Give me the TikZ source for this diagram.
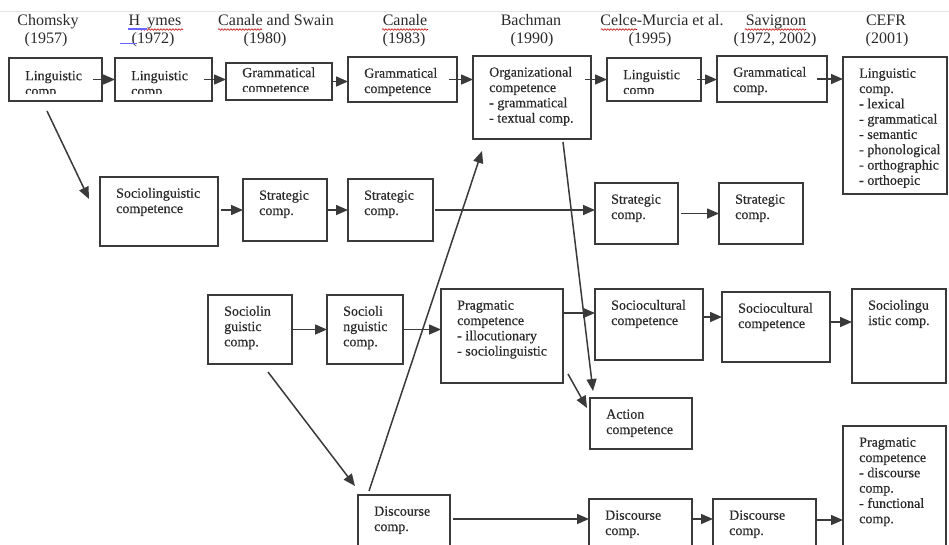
\documentclass[tikz,border=0pt]{standalone}
\usepackage{fontspec}
\setmainfont{Liberation Serif}
\newfontfamily\boxfont{Liberation Serif}[FakeBold=0.35]
\usetikzlibrary{arrows.meta,decorations.pathmorphing}
\definecolor{ink}{HTML}{2A2A2A}
\definecolor{edgec}{HTML}{3A3A3A}
\tikzset{
 bx/.style={draw=edgec, line width=1.5pt, inner sep=0pt, outer sep=0pt, rectangle},
 tx/.style={anchor=north west, inner sep=0pt, align=left, text=ink, font=\boxfont\fontsize{14}{15.3}\selectfont},
 hd/.style={anchor=base, inner sep=0pt, text=ink, font=\fontsize{16}{18}\selectfont},
 arr/.style={draw=edgec, line width=1.5pt, -{Triangle[length=12pt,width=10pt]}},
 squig/.style={draw=red!75!black, line width=0.6pt, decorate, decoration={snake, amplitude=0.8pt, segment length=3pt}},
 gram/.style={draw=blue!60, line width=1.5pt},
}
% name, x1, y1, x2, y2, text
\newcommand\dbox[6]{%
  \node[bx, minimum width={#4-#2}, minimum height={#5-#3}] (#1) at ({(#2+#4)/2},{(#3+#5)/2}) {};
  \node[tx] (#1t) at ({#2+16},{#3+10.5}) {\rule{0pt}{10pt}#6};
}
% name, x1, y1, x2, y2, text, text top, clip y
\newcommand\dboxc[8]{%
  \node[bx, minimum width={#4-#2}, minimum height={#5-#3}] (#1) at ({(#2+#4)/2},{(#3+#5)/2}) {};
  \begin{scope}
    \clip (#2,#3) rectangle (#4,#8);
    \node[tx] (#1t) at ({#2+16},{#7}) {\rule{0pt}{10pt}#6};
  \end{scope}
}
\begin{document}
\begin{tikzpicture}[x=1pt,y=-1pt]
\clip (0,0) rectangle (949,544);
\fill[white] (0,0) rectangle (949,544);
\draw[black!10, line width=0.6pt] (0,11) -- (949,11);

% headers
\node[hd] (h1a) at (48,25.5) {Chomsky};
\node[hd] (h1b) at (46,43) {(1957)};
\node[hd] (h2a) at (155,25.5) {H\hspace{0.45em}ymes};
\node[hd] (h2b) at (153,43) {(1972)};
\node[hd] (h3a) at (276,25.5) {Canale and Swain};
\node[hd] (h3b) at (265,43) {(1980)};
\node[hd] (h4a) at (405,25.5) {Canale};
\node[hd] (h4b) at (404,43) {(1983)};
\node[hd] (h5a) at (531,25.5) {Bachman};
\node[hd] (h5b) at (532,43) {(1990)};
\node[hd] (h6a) at (662,25.5) {Celce-Murcia et al.};
\node[hd] (h6b) at (650,43) {(1995)};
\node[hd] (h7a) at (776,25.5) {Savignon};
\node[hd] (h7b) at (775,43) {(1972, 2002)};
\node[hd] (h8a) at (886,25.5) {CEFR};
\node[hd] (h8b) at (887,43) {(2001)};

% spell-check marks
\draw[squig] (139,29.5) -- (183,29.5);
\draw[squig] (218,29.5) -- (262,29.5);
\draw[squig] (382,29.5) -- (428,29.5);
\draw[squig] (601,29.5) -- (637,29.5);
\draw[squig] (745,29.5) -- (806,29.5);
\draw[gram] (128,29) -- (147,29);
\draw[gram] (120,43.5) -- (137,43.5);

% top row
\dboxc{b1}{9}{58}{102}{101}{Linguistic\\comp}{70}{93.5}
\dboxc{b2}{115}{58}{212}{101}{Linguistic\\comp}{70}{93.5}
\dboxc{b3}{226}{63}{332}{100}{Grammatical\\competence}{67}{91}
\dbox{b4}{348}{57}{457}{102}{Grammatical\\competence}
\dbox{b5}{473}{56}{591}{139}{Organizational\\competence\\- grammatical\\- textual comp.}
\dboxc{b6}{607}{58}{701}{101}{Linguistic\\comp}{69}{93}
\dbox{b7}{717}{56}{827}{102}{Grammatical\\comp.}
\dbox{b8}{843}{57}{947}{194}{Linguistic\\comp.\\- lexical\\- grammatical\\- semantic\\- phonological\\- orthographic\\- orthoepic}

% second row
\dbox{s1}{100}{177}{218}{246}{Sociolinguistic\\competence}
\dbox{s2}{243}{179}{327}{241}{Strategic\\comp.}
\dbox{s3}{348}{179}{433}{241}{Strategic\\comp.}
\dbox{s5}{595}{183}{678}{244}{Strategic\\comp.}
\dbox{s6}{719}{183}{803}{244}{Strategic\\comp.}

% third row
\dbox{p1}{208}{295}{292}{364}{Sociolin\\guistic\\comp.}
\dbox{p2}{327}{295}{403}{364}{Socioli\\nguistic\\comp.}
\dbox{p3}{441}{289}{563}{383}{Pragmatic\\competence\\- illocutionary\\- sociolinguistic}
\dbox{p4}{595}{289}{703}{360}{Sociocultural\\competence}
\dbox{p5}{722}{292}{830}{362}{Sociocultural\\competence}
\dbox{p6}{852}{289}{946}{383}{Sociolingu\\istic comp.}
\dbox{ac}{590}{398}{692}{449}{Action\\competence}

% bottom row
\dbox{d1}{358}{495}{450}{560}{Discourse\\comp.}
\dbox{d2}{589}{499}{692}{560}{Discourse\\comp.}
\dbox{d3}{713}{499}{816}{560}{Discourse\\comp.}
\dbox{d4}{843}{426}{946}{560}{Pragmatic\\competence\\- discourse\\comp.\\- functional\\comp.}

% connectors
\draw[arr] ([xshift=-9pt]b1.east) -- (b2.west);
\draw[arr] ([xshift=-8pt]b2.east) -- (b2.east -| b3.west);
\draw[arr] (b3.east) -- (b3.east -| b4.west);
\draw[arr] ([xshift=-8pt]b4.east) -- (b4.east -| b5.west);
\draw[arr] ([xshift=-6pt]b5.east |- b6.west) -- (b6.west);
\draw[arr] ([xshift=-4pt]b6.east) -- (b6.east -| b7.west);
\draw[arr] ([xshift=-10pt]b7.east) -- (b7.east -| b8.west);
\draw[arr] ([xshift=-8.5pt,yshift=-10pt]b1.south) -- ([xshift=-11pt,yshift=-22pt]s1.north west);

\draw[arr] ([xshift=3pt]s1.east |- s2.west) -- (s2.west);
\draw[arr] (s2.east) -- (s3.west);
\draw[arr] ([xshift=2pt]s3.east) -- (s3.east -| s5.west);
\draw[arr] ([xshift=3pt]s5.east) -- (s5.east -| s6.west);

\draw[arr] (p1.east) -- (p2.west);
\draw[arr] (p2.east) -- (p2.east -| p3.west);
\draw[arr] ([yshift=23pt]p3.east) -- ([yshift=23pt]p3.east -| p4.west);
\draw[arr] ([yshift=7.5pt]p4.east) -- ([yshift=7.5pt]p4.east -| p5.west);
\draw[arr] ([yshift=5pt]p5.east) -- ([yshift=5pt]p5.east -| p6.west);

\draw[arr] ([xshift=31pt,yshift=-3pt]b5.south) -- ([xshift=3pt,yshift=7pt]ac.north west);
\draw[arr] ([xshift=5pt,yshift=9pt]p3.south east) -- ([xshift=-3pt,yshift=-10pt]ac.north west);
\draw[arr] ([xshift=18pt,yshift=-8pt]p1.south) -- ([xshift=-3pt,yshift=9pt]d1.north west);
\draw[arr] ([xshift=11pt,yshift=4pt]d1.north west) -- ([xshift=9pt,yshift=-12pt]b5.south west);

\draw[arr] ([xshift=3pt,yshift=-24pt]d1.north east) -- ([yshift=-24pt]d1.north east -| d2.west);
\draw[arr] ([yshift=-20pt]d2.north east) -- ([yshift=-20pt]d2.north east -| d3.west);
\draw[arr] ([yshift=-21pt]d3.north east) -- ([yshift=-21pt]d3.north east -| d4.west);
\end{tikzpicture}
\end{document}
